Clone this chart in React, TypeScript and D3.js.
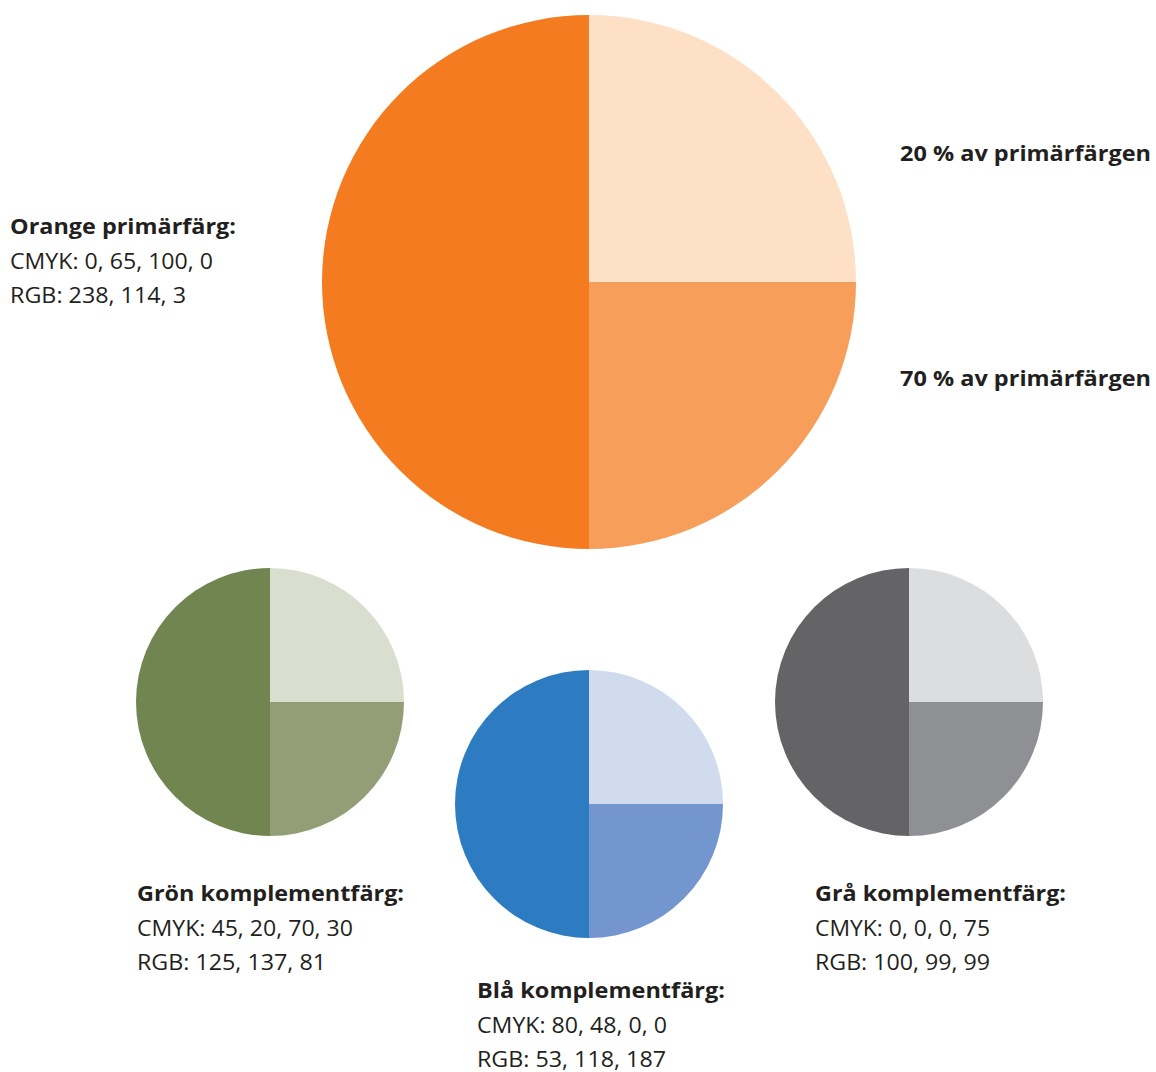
import React, { useEffect } from 'react';
import * as d3 from 'd3';

const WIDTH = 1156;
const HEIGHT = 1072;

// share of each circle: light tint, 70 % tint, full colour
const sliceNames = ['20 %', '70 %', '100 %'];
const sliceValues = [25, 25, 50];

const paletteNames = ['Orange', 'Grön', 'Blå', 'Grå'];
const paletteColors = [
  ['#fde0c6', '#f89e5b', '#f47b20'],
  ['#dadecf', '#939e77', '#718551'],
  ['#d0dbee', '#7396cf', '#2d7bc0'],
  ['#dcdddf', '#8f9093', '#646466'],
];
const paletteTitles = [
  'Orange primärfärg:',
  'Grön komplementfärg:',
  'Blå komplementfärg:',
  'Grå komplementfärg:',
];
const paletteCmyk = ['CMYK: 0, 65, 100, 0', 'CMYK: 45, 20, 70, 30', 'CMYK: 80, 48, 0, 0', 'CMYK: 0, 0, 0, 75'];
const paletteRgb = ['RGB: 238, 114, 3', 'RGB: 125, 137, 81', 'RGB: 53, 118, 187', 'RGB: 100, 99, 99'];

const tintLabels = ['20 % av primärfärgen', '70 % av primärfärgen'];

// layout: pie centres/radii, label anchors and measured text widths
const pieLayout = [
  { cx: 589, cy: 282, r: 267, lx: 10, ly: 234, w: [226, 203, 176] },
  { cx: 270, cy: 702, r: 134, lx: 137, ly: 901, w: [267, 216, 189] },
  { cx: 589, cy: 804, r: 134, lx: 477, ly: 998, w: [248, 190, 189] },
  { cx: 909, cy: 702, r: 134, lx: 815, ly: 901, w: [251, 175, 175] },
];
const tintLayout = [
  { x: 900, y: 161, w: 251 },
  { x: 900, y: 386, w: 251 },
];

const FONT = "'Open Sans', 'Noto Sans', sans-serif";
const TEXT_COLOR = '#231f20';
const LINE_GAP = 34.5;

export default function App(): JSX.Element {
  useEffect(() => {
    document.body.style.margin = '0';
  }, []);

  const pie = d3
    .pie<number>()
    .sort(null)
    .startAngle(0)
    .endAngle(2 * Math.PI);
  const arcs = pie(sliceValues);

  return (
    <svg width={WIDTH} height={HEIGHT} style={{ display: 'block', background: '#fff' }}>
      {pieLayout.map((p, i) => {
        const arc = d3.arc<d3.PieArcDatum<number>>().innerRadius(0).outerRadius(p.r);
        const lines = [paletteTitles[i], paletteCmyk[i], paletteRgb[i]];
        return (
          <g key={paletteNames[i]}>
            <g transform={`translate(${p.cx},${p.cy})`}>
              {arcs.map((a, j) => (
                <path key={sliceNames[j]} d={arc(a) || ''} fill={paletteColors[i][j]} />
              ))}
            </g>
            <g fontFamily={FONT} fontSize={21} fill={TEXT_COLOR}>
              {lines.map((t, k) => (
                <text
                  key={t}
                  x={p.lx}
                  y={p.ly + LINE_GAP * k}
                  fontWeight={k === 0 ? 'bold' : 'normal'}
                  textLength={p.w[k]}
                  lengthAdjust="spacingAndGlyphs"
                >
                  {t}
                </text>
              ))}
            </g>
          </g>
        );
      })}
      <g fontFamily={FONT} fontSize={21} fontWeight="bold" fill={TEXT_COLOR}>
        {tintLabels.map((t, k) => (
          <text
            key={t}
            x={tintLayout[k].x}
            y={tintLayout[k].y}
            textLength={tintLayout[k].w}
            lengthAdjust="spacingAndGlyphs"
          >
            {t}
          </text>
        ))}
      </g>
    </svg>
  );
}
